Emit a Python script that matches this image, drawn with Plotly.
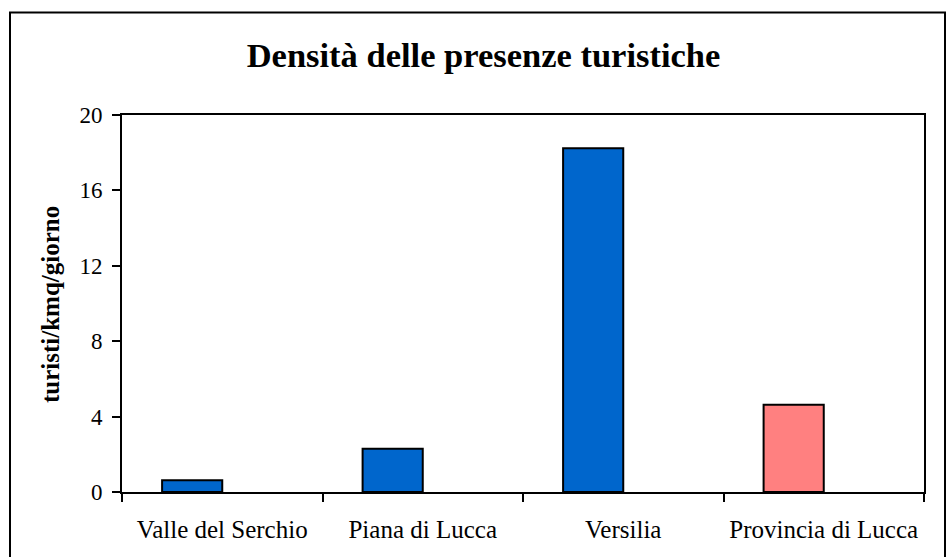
import plotly.graph_objects as go

categories = ["Valle del Serchio", "Piana di Lucca", "Versilia", "Provincia di Lucca"]
densita = [0.62, 2.30, 18.23, 4.63]
vuota = [None, None, None, None]
bar_colors = ["#0066CC", "#0066CC", "#0066CC", "#FF8080"]
y_ticks = [0, 4, 8, 12, 16, 20]

W, H = 947, 557
L, R, T, B = 122, 924, 115, 492
pw, ph = R - L, B - T

fig = go.Figure()
fig.add_trace(go.Bar(x=categories, y=densita, marker=dict(color=bar_colors, line=dict(color="black", width=2)),
                     showlegend=False, hoverinfo="x+y"))
fig.add_trace(go.Bar(x=categories, y=vuota, marker=dict(color="white", line=dict(color="black", width=2)),
                     showlegend=False))

serif = "Liberation Serif, Times New Roman, serif"

fig.update_layout(
    width=W, height=H,
    margin=dict(l=L, r=W - R, t=T, b=H - B),
    paper_bgcolor="white", plot_bgcolor="white",
    barmode="group", bargap=0.4, bargroupgap=0,
    font=dict(family=serif, color="black"),
    title=dict(text="<b>Densità delle presenze turistiche</b>", font=dict(family=serif, size=34.5, color="black"),
               x=483.5 / W, xanchor="center", xref="container", y=1 - 55 / H,
               yanchor="middle", yref="container"),
    xaxis=dict(type="category", showline=True, linewidth=2, linecolor="black", mirror=True,
               ticks="outside", tickson="boundaries", ticklen=8, tickwidth=2, tickcolor="black",
               tickfont=dict(family=serif, size=25, color="black"), ticklabelstandoff=14,
               showgrid=False, zeroline=False, fixedrange=True),
    yaxis=dict(range=[0, 20], tickvals=y_ticks, showline=True, linewidth=2, linecolor="black", mirror=True,
               ticks="outside", ticklen=8, tickwidth=2, tickcolor="black",
               tickfont=dict(family=serif, size=23, color="black"), ticklabelstandoff=5,
               showgrid=False, zeroline=False, fixedrange=True),
    annotations=[dict(text="<b>turisti/kmq/giorno</b>", textangle=-90, xref="paper", yref="paper",
                      x=(50 - L) / pw, y=(B - 305) / ph, xanchor="center", yanchor="middle",
                      showarrow=False, font=dict(family=serif, size=25, color="black"))],
    shapes=[dict(type="rect", xref="paper", yref="paper",
                 x0=(10 - L) / pw, x1=(945 - L) / pw, y0=(B - 575) / ph, y1=(B - 12.5) / ph,
                 line=dict(color="black", width=2), fillcolor="rgba(0,0,0,0)", layer="below")],
)

fig.write_html("out.html", config={"displayModeBar": False},
               post_script="document.body.style.margin='0';document.documentElement.style.overflow='hidden';")
